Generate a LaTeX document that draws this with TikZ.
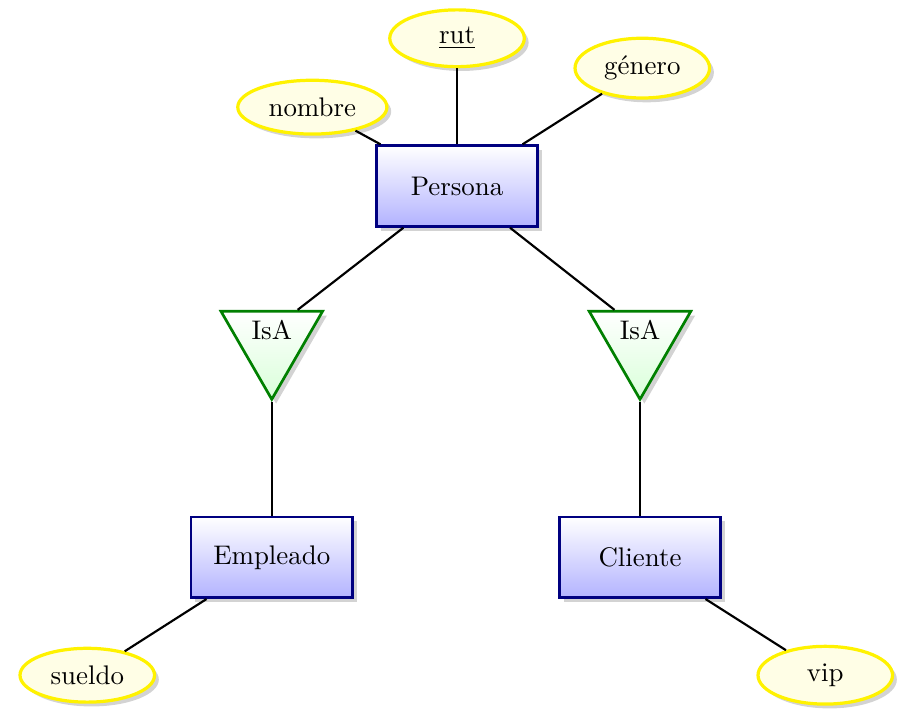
\documentclass[tikz,border=0pt]{standalone}
\usepackage{tikz}
\usetikzlibrary{shapes.geometric,shadows,positioning}

\begin{document}
\begin{tikzpicture}[
  shade/.style={drop shadow={shadow xshift=1.6pt, shadow yshift=-1.6pt, opacity=0.35}},
  entity/.style={draw=blue!50!black, line width=1pt, top color=white, bottom color=blue!30,
    minimum width=60pt, minimum height=30pt, shade},
  attr/.style={ellipse, draw=yellow, line width=1.2pt, fill=yellow!10,
    minimum width=50pt, minimum height=20pt, shade},
  isa/.style={isosceles triangle, isosceles triangle apex angle=60, shape border rotate=-90,
    draw=green!50!black, line width=1pt, top color=white, bottom color=green!15, shade},
  link/.style={thick}]
\useasboundingbox (-5.97,-6.82) rectangle (5.76,2.43);
% entities
\node[entity] (persona) at (0,0) {Persona};
\node[entity] (empleado) at (-2.42,-4.85) {Empleado};
\node[entity] (cliente) at (2.39,-4.85) {Cliente};
% isa
\node[isa] (isaE) at (-2.42,-1.88) {IsA};
\node[isa] (isaC) at (2.39,-1.88) {IsA};
% attributes
\node[attr] (rut) at (0,1.93) {\underline{rut}};
\node[attr] (nombre) at (-1.89,1.03) {nombre};
\node[attr] (genero) at (2.42,1.54) {género};
\node[attr] (sueldo) at (-4.83,-6.39) {sueldo};
\node[attr] (vip) at (4.81,-6.39) {vip};
% links
\draw[link] (persona) -- (rut);
\draw[link] (persona) -- (nombre);
\draw[link] (persona) -- (genero);
\draw[link] (persona) -- (isaE);
\draw[link] (persona) -- (isaC);
\draw[link] (isaE.apex) -- (empleado);
\draw[link] (isaC.apex) -- (cliente);
\draw[link] (empleado) -- (sueldo);
\draw[link] (cliente) -- (vip);
\end{tikzpicture}
\end{document}
